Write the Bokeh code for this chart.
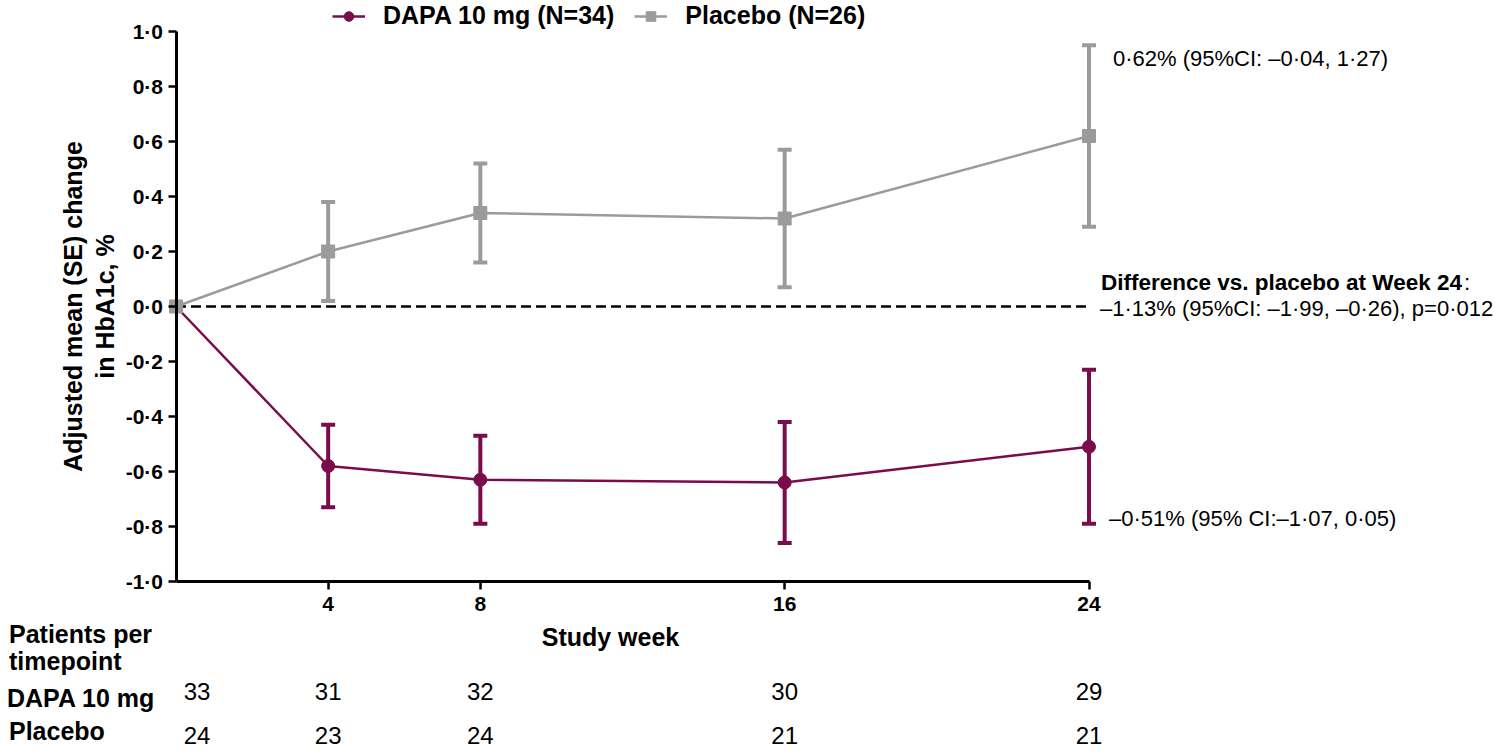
from bokeh.plotting import figure
from bokeh.models import (Range1d, FixedTicker, CustomJSTickFormatter, Label, Legend,
                          LegendItem, Whisker, TeeHead, ColumnDataSource)
from bokeh.embed import file_html
from bokeh.resources import INLINE

# ---------------- data ----------------
weeks = [0, 4, 8, 16, 24]
dapa_mean = [0.0, -0.58, -0.63, -0.64, -0.51]
dapa_upper = [0.0, -0.43, -0.47, -0.42, -0.23]
dapa_lower = [0.0, -0.73, -0.79, -0.86, -0.79]
pbo_mean = [0.0, 0.20, 0.34, 0.32, 0.62]
pbo_upper = [0.0, 0.38, 0.52, 0.57, 0.95]
pbo_lower = [0.0, 0.02, 0.16, 0.07, 0.29]
n_dapa = [33, 31, 32, 30, 29]
n_pbo = [24, 23, 24, 21, 21]
x_ticks = [4, 8, 16, 24]
y_ticks = [-1.0, -0.8, -0.6, -0.4, -0.2, 0.0, 0.2, 0.4, 0.6, 0.8, 1.0]
legend_labels = ["DAPA 10 mg (N=34)", "Placebo (N=26)"]
x_title = "Study week"
y_title = "Adjusted mean (SE) change\nin HbA1c, %"
table_title = ["Patients per", "timepoint"]
table_rows = ["DAPA 10 mg", "Placebo"]
note_pbo = "0\u00b762% (95%CI: \u20130\u00b704, 1\u00b727)"
note_dapa = "\u20130\u00b751% (95% CI:\u20131\u00b707, 0\u00b705)"
note_diff_head = "Difference vs. placebo at Week 24"
note_diff = "\u20131\u00b713% (95%CI: \u20131\u00b799, \u20130\u00b726), p=0\u00b7012"

DAPA_C = "#7b0c4b"
PBO_C = "#9b9b9b"
FONT = "Liberation Sans"

# ---------------- layout (pixels) ----------------
W, H = 1500, 754
X0_PX, X24_PX = 175.5, 1088.5      # canvas x of week 0 / week 24
YTOP_PX, YBOT_PX = 31.0, 581.0      # canvas y of +1.0 / -1.0
px_per_x = (X24_PX - X0_PX) / (weeks[-1] - weeks[0])
px_per_y = (YBOT_PX - YTOP_PX) / (y_ticks[-1] - y_ticks[0])
x_start = weeks[0] - X0_PX / px_per_x
x_end = weeks[0] + (W - X0_PX) / px_per_x
y_end = y_ticks[-1] + YTOP_PX / px_per_y
y_start = y_ticks[0] - (H - YBOT_PX) / px_per_y

p = figure(width=W, height=H, title=None,
           x_range=Range1d(x_start, x_end), y_range=Range1d(y_start, y_end),
           output_backend="svg", toolbar_location=None,
           min_border=0, min_border_left=0, min_border_right=0,
           min_border_top=0, min_border_bottom=0)
p.outline_line_color = None
p.xgrid.grid_line_color = None
p.ygrid.grid_line_color = None
p.background_fill_color = "white"
p.border_fill_color = "white"

# zero reference line
p.line(x=[weeks[0], weeks[-1]], y=[0, 0], line_color="black", line_width=2.5,
       line_dash="10 5")

# DAPA series
dapa_src = ColumnDataSource(dict(x=weeks, y=dapa_mean))
dapa_line = p.line("x", "y", source=dapa_src, line_color=DAPA_C, line_width=2.5)
dapa_err = ColumnDataSource(dict(x=weeks[1:], upper=dapa_upper[1:], lower=dapa_lower[1:]))
p.add_layout(Whisker(base="x", upper="upper", lower="lower", source=dapa_err,
                     dimension="height", line_color=DAPA_C, line_width=4,
                     upper_head=TeeHead(size=14, line_color=DAPA_C, line_width=4),
                     lower_head=TeeHead(size=14, line_color=DAPA_C, line_width=4),
                     level="glyph"))
dapa_pts = p.scatter("x", "y", source=dapa_src, marker="circle", size=13,
                     fill_color=DAPA_C, line_color=DAPA_C)

# Placebo series
pbo_src = ColumnDataSource(dict(x=weeks, y=pbo_mean))
pbo_line = p.line("x", "y", source=pbo_src, line_color=PBO_C, line_width=2.5)
pbo_err = ColumnDataSource(dict(x=weeks[1:], upper=pbo_upper[1:], lower=pbo_lower[1:]))
p.add_layout(Whisker(base="x", upper="upper", lower="lower", source=pbo_err,
                     dimension="height", line_color=PBO_C, line_width=4,
                     upper_head=TeeHead(size=14, line_color=PBO_C, line_width=4),
                     lower_head=TeeHead(size=14, line_color=PBO_C, line_width=4),
                     level="glyph"))
pbo_pts = p.scatter("x", "y", source=pbo_src, marker="square", size=13,
                    fill_color=PBO_C, line_color=PBO_C)

# ---------------- axes (drawn at data positions inside the frame) ----------------
yax = p.yaxis[0]
yax.fixed_location = weeks[0]
yax.bounds = (y_ticks[0], y_ticks[-1])
yax.ticker = FixedTicker(ticks=y_ticks)
yax.formatter = CustomJSTickFormatter(code="return tick.toFixed(1).replace('.', '\u00b7');")
yax.axis_label = y_title
yax.axis_label_text_font = FONT
yax.axis_label_text_font_size = "25px"
yax.axis_label_text_font_style = "bold"
yax.axis_label_text_color = "black"
yax.axis_label_text_line_height = 1.15
yax.axis_label_standoff = 4
yax.major_label_text_font = FONT
yax.major_label_text_font_size = "21px"
yax.major_label_text_font_style = "bold"
yax.major_label_text_color = "black"
yax.major_label_standoff = 5

xax = p.xaxis[0]
xax.fixed_location = y_ticks[0]
xax.bounds = (weeks[0], weeks[-1])
xax.ticker = FixedTicker(ticks=x_ticks)
xax.major_label_text_font = FONT
xax.major_label_text_font_size = "21px"
xax.major_label_text_font_style = "bold"
xax.major_label_text_color = "black"
xax.major_label_standoff = 7

for ax in (xax, yax):
    ax.axis_line_color = "black"
    ax.axis_line_width = 3
    ax.major_tick_line_color = "black"
    ax.major_tick_line_width = 2.5
    ax.major_tick_out = 8
    ax.major_tick_in = 0
    ax.minor_tick_line_color = None

# ---------------- legend ----------------
legend = Legend(items=[LegendItem(label=legend_labels[0], renderers=[dapa_line, dapa_pts]),
                       LegendItem(label=legend_labels[1], renderers=[pbo_line, pbo_pts])],
                orientation="horizontal", location=(332, H - 30),
                border_line_color=None, background_fill_alpha=0,
                padding=0, margin=0, spacing=20,
                glyph_width=33, glyph_height=24, label_height=24, label_standoff=18,
                label_text_font=FONT, label_text_font_size="25px",
                label_text_font_style="bold", label_text_color="black")
p.add_layout(legend)

# ---------------- annotations ----------------
def lab(x, y, text, xo, yo, size="22px", style="normal", align="left"):
    p.add_layout(Label(x=x, y=y, text=text, x_offset=xo, y_offset=yo,
                       text_font=FONT, text_font_size=size,
                       text_font_style=style, text_color="black",
                       text_align=align, text_baseline="middle"))

# x-axis title (sits a little left of the axis centre in the original)
lab((weeks[0] + weeks[-1]) / 2, y_ticks[0], x_title, -22, -55, size="25px",
    style="bold", align="center")

lab(weeks[-1], pbo_upper[-1], note_pbo, 24, -13)
lab(weeks[-1], dapa_lower[-1], note_dapa, 20, 5)
lab(weeks[-1], 0, note_diff_head, 12, 24, size="22.5px", style="bold")
lab(weeks[-1], 0, ":", 12 + 363, 24, size="22.5px")
lab(weeks[-1], 0, note_diff, 11, -2)

# patients-per-timepoint table (below the axis)
ybase = y_ticks[0]
lab(weeks[0], ybase, table_title[0], -167, -52, size="25px", style="bold")
lab(weeks[0], ybase, table_title[1], -167, -79, size="25px", style="bold")
lab(weeks[0], ybase, table_rows[0], -169, -116, size="25px", style="bold")
lab(weeks[0], ybase, table_rows[1], -167, -149, size="25px", style="bold")
for i, w in enumerate(weeks):
    xo = 21 if i == 0 else 0
    lab(w, ybase, str(n_dapa[i]), xo, -110, size="24px", align="center")
    lab(w, ybase, str(n_pbo[i]), xo, -154, size="24px", align="center")

open("out.html", "w").write(file_html(p, INLINE))
